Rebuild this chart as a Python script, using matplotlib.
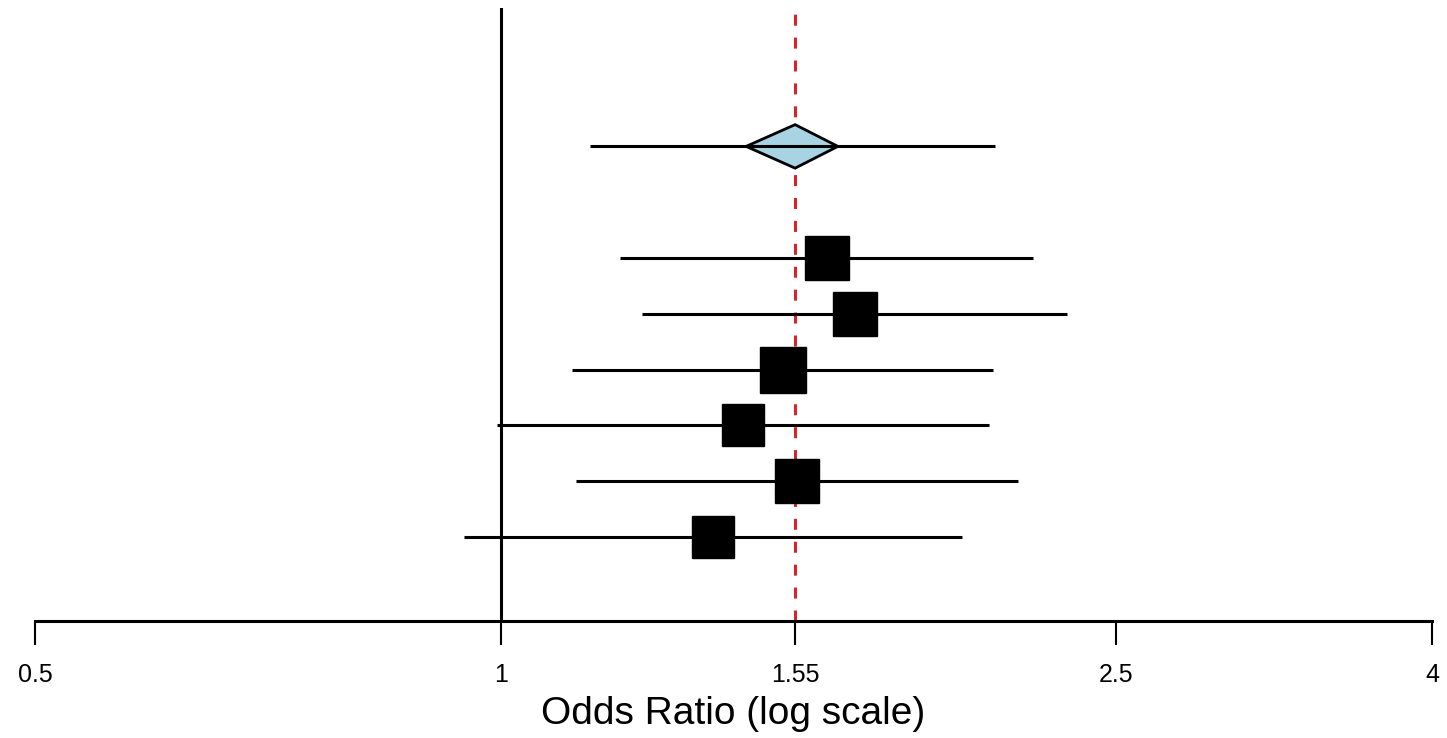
import matplotlib
matplotlib.use('Agg')
import matplotlib.pyplot as plt
from matplotlib.patches import Polygon

# ---- data ----
study_or = [1.625, 1.695, 1.522, 1.434, 1.554, 1.372]
study_lo = [1.194, 1.234, 1.112, 0.994, 1.119, 0.947]
study_hi = [2.209, 2.323, 2.081, 2.069, 2.160, 1.987]
study_weight = [46, 46, 46.5, 43, 45, 43]   # relative box sizes
study_rows = [6, 5, 4, 3, 2, 1]

pooled_or = 1.55
pooled_diamond_lo = 1.441
pooled_diamond_hi = 1.652
pooled_ci_lo = 1.142
pooled_ci_hi = 2.087
pooled_row = 8

xticks = [0.5, 1, 1.55, 2.5, 4]
xticklabels = ['0.5', '1', '1.55', '2.5', '4']
xlabel = 'Odds Ratio (log scale)'

plt.rcParams['font.family'] = ['Liberation Sans', 'DejaVu Sans']

W, H = 1447, 738
fig = plt.figure(figsize=(W / 100, H / 100), dpi=100)
ax = fig.add_axes([35 / W, (H - 621) / H, 1397 / W, 613 / H])
ax.set_xscale('log')
ax.set_xlim(0.5, 4)
ax.set_ylim(-0.505, 10.48)

# reference lines
ax.axvline(1, color='black', lw=2.2, zorder=1)
ax.axvline(pooled_or, color='#d9232a', lw=2.2, dashes=(3.6, 3.9), zorder=1)

# studies
for y, o, lo, hi, w in zip(study_rows, study_or, study_lo, study_hi, study_weight):
    ax.plot([lo, hi], [y, y], color='black', lw=2.2, solid_capstyle='butt', zorder=2)
    ax.plot([o], [y], marker='s', markersize=w * 0.72 - 1, color='black',
            markeredgecolor='black', markeredgewidth=1, zorder=3)

# pooled
dh = 0.39
diamond = Polygon([(pooled_diamond_lo, pooled_row), (pooled_or, pooled_row + dh),
                   (pooled_diamond_hi, pooled_row), (pooled_or, pooled_row - dh)],
                  closed=True, facecolor='#a8d3e2', edgecolor='black', lw=2.0, zorder=3)
ax.add_patch(diamond)
ax.plot([pooled_ci_lo, pooled_ci_hi], [pooled_row, pooled_row], color='black', lw=2.2,
        solid_capstyle='butt', zorder=4)

# axes styling
for s in ['top', 'right', 'left']:
    ax.spines[s].set_visible(False)
ax.spines['bottom'].set_linewidth(2.2)
ax.set_yticks([])
ax.set_xticks(xticks)
ax.set_xticklabels(xticklabels, fontsize=18)
ax.xaxis.set_minor_locator(matplotlib.ticker.NullLocator())
ax.tick_params(axis='x', direction='out', length=17, width=1.5, pad=13)
ax.set_xlabel(xlabel, fontsize=28, labelpad=7)

fig.savefig('out.png', dpi=100)
